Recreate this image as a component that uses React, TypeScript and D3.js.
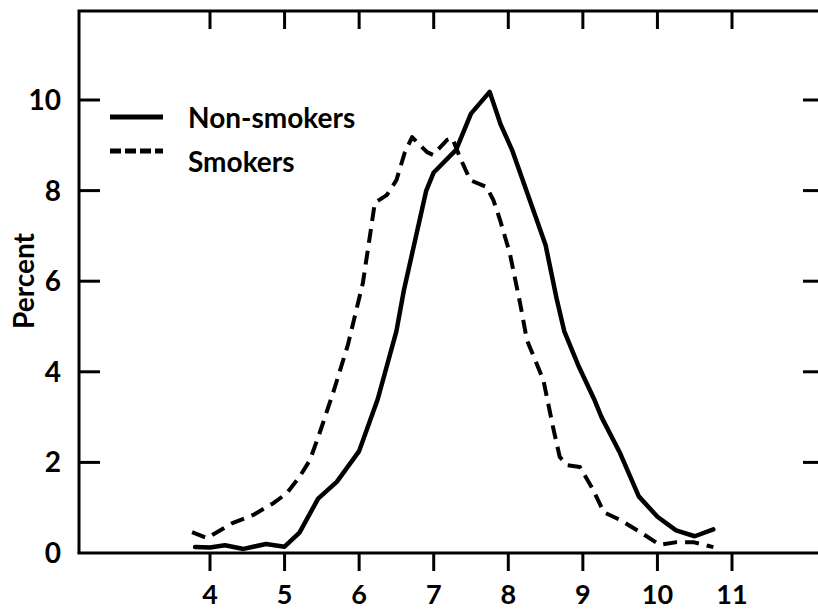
import React from "react";
import * as d3 from "d3";

const xTicks = [4, 5, 6, 7, 8, 9, 10, 11];
const yTicks = [0, 2, 4, 6, 8, 10];
const seriesNames = ["Non-smokers", "Smokers"];

const nonSmokersX = [3.8, 4.0, 4.2, 4.45, 4.75, 5.0, 5.2, 5.45, 5.7, 6.0, 6.25, 6.5, 6.6, 6.9, 7.0, 7.3, 7.5, 7.75, 7.9, 8.05, 8.2, 8.5, 8.65, 8.75, 8.95, 9.15, 9.25, 9.5, 9.75, 10.0, 10.25, 10.5, 10.75];
const nonSmokersY = [0.13, 0.12, 0.17, 0.09, 0.2, 0.14, 0.45, 1.2, 1.57, 2.25, 3.4, 4.9, 5.8, 8.0, 8.4, 8.9, 9.7, 10.18, 9.45, 8.9, 8.2, 6.8, 5.6, 4.9, 4.1, 3.4, 3.0, 2.2, 1.25, 0.8, 0.5, 0.37, 0.52];

const smokersX = [3.76, 3.96, 4.3, 4.58, 4.85, 5.03, 5.2, 5.34, 5.47, 5.65, 5.85, 6.05, 6.15, 6.21, 6.37, 6.5, 6.61, 6.71, 6.91, 6.99, 7.18, 7.25, 7.35, 7.49, 7.71, 7.8, 7.89, 8.02, 8.16, 8.25, 8.47, 8.6, 8.69, 8.79, 8.96, 9.14, 9.28, 9.5, 9.77, 10.03, 10.26, 10.48, 10.75];
const smokersY = [0.46, 0.33, 0.66, 0.84, 1.1, 1.32, 1.68, 2.05, 2.65, 3.53, 4.6, 5.96, 7.06, 7.73, 7.9, 8.23, 8.83, 9.18, 8.85, 8.79, 9.12, 9.16, 8.74, 8.23, 8.08, 7.79, 7.35, 6.62, 5.5, 4.7, 3.82, 2.78, 2.12, 1.94, 1.9, 1.39, 0.9, 0.73, 0.46, 0.18, 0.24, 0.24, 0.13];

const W = 818;
const H = 611;
const FONT = "Lato, 'DejaVu Sans', sans-serif";

export default function App() {
  const x = d3.scaleLinear().domain([4, 11]).range([210, 732]);
  const y = d3.scaleLinear().domain([0, 10]).range([553, 100]);
  const left = 79;
  const right = 822;
  const top = 11;
  const bottom = y(0);

  const line = d3
    .line<[number, number]>()
    .x((d) => x(d[0]))
    .y((d) => y(d[1]))
    .curve(d3.curveLinear);

  const nonData: [number, number][] = nonSmokersX.map((v, i) => [v, nonSmokersY[i]]);
  const smkData: [number, number][] = smokersX.map((v, i) => [v, smokersY[i]]);

  return (
    <svg
      width={W}
      height={H}
      style={{ position: "absolute", left: 0, top: 0, background: "#fff" }}
      fontFamily={FONT}
    >
      <rect x={0} y={0} width={W} height={H} fill="#fff" />
      {/* frame */}
      <path
        d={`M${left},${bottom} L${left},${top} L${right},${top}`}
        fill="none"
        stroke="#000"
        strokeWidth={3}
      />
      <line x1={left - 1.5} x2={right} y1={bottom} y2={bottom} stroke="#000" strokeWidth={3} />
      {/* x ticks */}
      {xTicks.map((t) => (
        <g key={"xt" + t}>
          <line x1={x(t)} x2={x(t)} y1={bottom} y2={bottom + 18} stroke="#000" strokeWidth={3} />
          <line x1={x(t)} x2={x(t)} y1={top} y2={top + 18} stroke="#000" strokeWidth={3} />
          <text
            x={x(t)}
            y={604}
            textAnchor="middle"
            fontSize={27}
            fontWeight={700}
            fill="#000"
          >
            {t}
          </text>
        </g>
      ))}
      {/* y ticks */}
      {yTicks.map((t) => (
        <g key={"yt" + t}>
          {t > 0 && (
            <>
              <line x1={left} x2={left + 21} y1={y(t)} y2={y(t)} stroke="#000" strokeWidth={3} />
              <line x1={803} x2={818} y1={y(t)} y2={y(t)} stroke="#000" strokeWidth={3} />
            </>
          )}
          <text
            x={61}
            y={y(t)}
            dy="0.36em"
            textAnchor="end"
            fontSize={28}
            fontWeight={700}
            fill="#000"
          >
            {t}
          </text>
        </g>
      ))}
      <text
        transform={`translate(34,${281}) rotate(-90)`}
        textAnchor="middle"
        fontSize={28}
        fontWeight={700}
        fill="#000"
      >
        Percent
      </text>
      {/* series */}
      <path d={line(nonData) || ""} fill="none" stroke="#000" strokeWidth={4.5} strokeLinejoin="round" strokeLinecap="round" />
      <path
        d={line(smkData) || ""}
        fill="none"
        stroke="#000"
        strokeWidth={4}
        strokeDasharray="14 8"
        strokeLinejoin="round"
      />
      {/* legend */}
      <line x1={110} x2={163} y1={117} y2={117} stroke="#000" strokeWidth={5} />
      <text x={188} y={128} fontSize={28} fontWeight={700} fill="#000">
        {seriesNames[0]}
      </text>
      <line x1={110} x2={163} y1={151} y2={151} stroke="#000" strokeWidth={5} strokeDasharray="11 4" />
      <text x={188} y={172} fontSize={28} fontWeight={700} fill="#000">
        {seriesNames[1]}
      </text>
    </svg>
  );
}
